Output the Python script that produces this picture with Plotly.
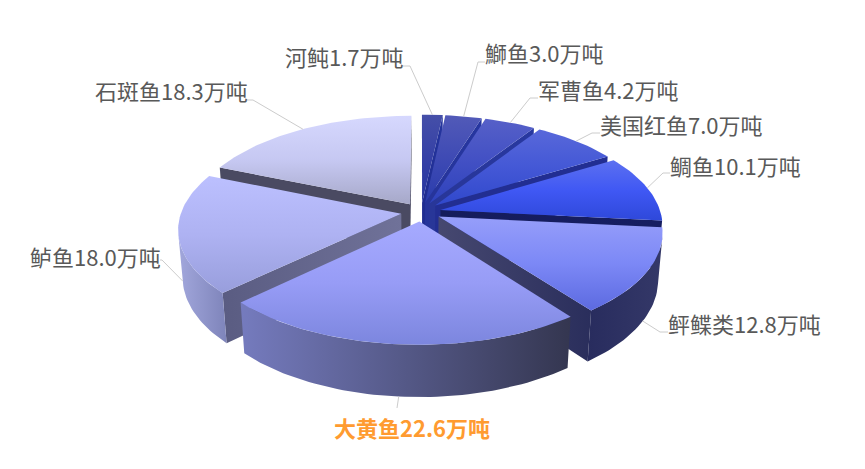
import math
import plotly.graph_objects as go

# ---- data ----
names = ["河鲀", "鰤鱼", "军曹鱼", "美国红鱼", "鲷鱼", "鲆鲽类", "大黄鱼", "鲈鱼", "石斑鱼"]
values = [1.7, 3.0, 4.2, 7.0, 10.1, 12.8, 22.6, 18.0, 18.3]
unit = "万吨"

# ---- styles: top face (top, middle, bottom), outer wall (left, right), cut faces (left, right) ----
top_colors = [("#454fa8", "#3540a6", "#24349e"), ("#525ab8", "#3e4ab4", "#2a3cac"),
              ("#5660c8", "#4250c4", "#2e42bc"), ("#5868da", "#4458d6", "#3048cc"),
              ("#5c70f0", "#4058f4", "#2e48da"), ("#969efa", "#7c88f6", "#5c6ae0"),
              ("#a6aaff", "#979cf6", "#7c86de"), ("#bcc0ff", "#aeb2f2", "#989edc"),
              ("#d6d8fe", "#c6c8f2", "#a6a8c8")]
wall_colors = [("#1d2a86", "#1d2a86"), ("#1f2d90", "#1f2d90"), ("#222f96", "#222f96"),
               ("#1f2b8c", "#1f2b8c"), ("#181f62", "#181f62"), ("#282c5e", "#343868"),
               ("#757bbe", "#343650"), ("#a2a7dc", "#7e84ba"), ("#9a9cc0", "#7c7ea0")]
face_colors = [("#1f2c90", "#25359e"), ("#26349a", "#2636a0"), ("#283698", "#2838a0"),
               ("#222e92", "#222e92"), ("#151c5c", "#161e62"), ("#464870", "#2a2e5c"),
               ("#3a3c60", "#3a3c60"), ("#5a5c82", "#707299"), ("#4a4a62", "#4a4a62")]
highlight = "大黄鱼"
label_anchor = ["right", "left", "left", "left", "left", "left", "center", "right", "right"]
# leader elbows and label anchors, in page pixels
elbows = [(410, 66), (478, 62), (530, 98), (592, 133), (663, 173), (660, 332), (397, 408), (162, 260), (253, 100)]
label_at = [(406, 56), (483, 52), (536, 89), (598, 124), (668, 165), (666, 323), (412, 427), (163, 256), (250, 90)]

W, H = 865, 469
CX, CY = 421.0, 212.0
R, EXPLODE, DEPTH = 220.0, 20.0, 54.0
SIN_A = 0.468
COS_A = math.sqrt(1 - SIN_A ** 2)
VIEW = 1380.0
STEPS_PER_RAD = 40
WALL_COS = -R / (VIEW * COS_A)
WALL_FROM = math.acos(WALL_COS)
WALL_TO = 2 * math.pi - WALL_FROM


def project(wx, wz, down=0.0):
    depth = wz * COS_A + down * SIN_A
    height = wz * SIN_A - down * COS_A
    s = VIEW / (VIEW + depth)
    return CX + s * wx, CY - s * height


def arc(t0, t1, ox, oz, down):
    n = max(2, int(abs(t1 - t0) * STEPS_PER_RAD))
    pts = []
    for i in range(n + 1):
        t = t0 + (t1 - t0) * i / n
        pts.append(project(ox + R * math.sin(t), oz + R * math.cos(t), down))
    return pts


def area(pts):
    return sum(pts[k][0] * pts[(k + 1) % len(pts)][1] - pts[(k + 1) % len(pts)][0] * pts[k][1]
               for k in range(len(pts)))


def poly(fig, pts, colors, kind):
    xs = [p[0] for p in pts] + [pts[0][0]]
    ys = [p[1] for p in pts] + [pts[0][1]]
    scale = [[k / (len(colors) - 1), c] for k, c in enumerate(colors)]
    fig.add_trace(go.Scatter(
        x=xs, y=ys, mode="lines", line=dict(width=0), fill="toself", hoverinfo="skip",
        fillgradient=dict(type=kind, colorscale=scale), showlegend=False))


total = sum(values)
spans = []
acc = 0.0
for v in values:
    a0 = acc / total * 2 * math.pi
    acc += v
    spans.append((a0, acc / total * 2 * math.pi))

fig = go.Figure()
order = sorted(range(len(values)), key=lambda i: -math.cos((spans[i][0] + spans[i][1]) / 2))
for i in order:
    a0, a1 = spans[i]
    mid = (a0 + a1) / 2
    ox, oz = EXPLODE * math.sin(mid), EXPLODE * math.cos(mid)
    for a, sign in ((a0, -1), (a1, 1)):
        rim_t = project(ox + R * math.sin(a), oz + R * math.cos(a))
        rim_b = project(ox + R * math.sin(a), oz + R * math.cos(a), DEPTH)
        face = [project(ox, oz), rim_t, rim_b, project(ox, oz, DEPTH)]
        if area(face) * sign > 0:
            poly(fig, face, face_colors[i], "horizontal")
    w0, w1 = max(a0, WALL_FROM), min(a1, WALL_TO)
    if w1 > w0:
        poly(fig, arc(w0, w1, ox, oz, 0) + arc(w1, w0, ox, oz, DEPTH), wall_colors[i], "horizontal")
    # the y axis runs downwards on the page, so the scale is given bottom first
    poly(fig, [project(ox, oz)] + arc(a0, a1, ox, oz, 0), top_colors[i][::-1], "vertical")

for i, name in enumerate(names):
    a0, a1 = spans[i]
    mid = (a0 + a1) / 2
    ox, oz = EXPLODE * math.sin(mid), EXPLODE * math.cos(mid)
    start = project(ox + R * math.sin(mid), oz + R * math.cos(mid), 0 if math.cos(mid) > 0 else DEPTH)
    ex, ey = elbows[i]
    lx, ly = label_at[i]
    end_x = ex if label_anchor[i] == "center" else lx + (-3 if label_anchor[i] == "right" else 2)
    fig.add_trace(go.Scatter(x=[start[0], ex, end_x], y=[start[1], ey, ey], mode="lines",
                             line=dict(color="#cccccc", width=1), hoverinfo="skip", showlegend=False))
    is_hi = name == highlight
    fig.add_annotation(
        x=lx, y=ly, xref="x", yref="y", showarrow=False,
        text=(f"<b>{name}{values[i]:.1f}{unit}</b>" if is_hi else f"{name}{values[i]:.1f}{unit}"),
        xanchor=label_anchor[i], yanchor="middle",
        font=dict(family="Noto Sans CJK SC", size=22, color="#ff9b30" if is_hi else "#595959"))

fig.update_layout(
    width=W, height=H, margin=dict(l=0, r=0, t=0, b=0),
    paper_bgcolor="white", plot_bgcolor="white", showlegend=False,
    xaxis=dict(range=[0, W], visible=False, fixedrange=True),
    yaxis=dict(range=[H, 0], visible=False, fixedrange=True),
)
fig.write_html("out.html", config={"displayModeBar": False},
               post_script="document.body.style.margin='0';")
